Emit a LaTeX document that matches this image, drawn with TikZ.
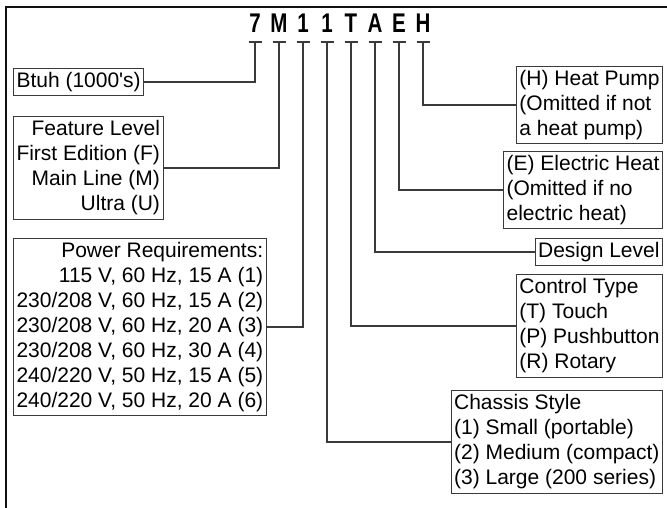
\documentclass[tikz,border=0pt]{standalone}
\usepackage{fontspec}
\setmainfont{Liberation Sans}
\usetikzlibrary{positioning}
\definecolor{leadgray}{HTML}{3A3A3A}
\definecolor{framegray}{HTML}{101010}

\begin{document}
\begin{tikzpicture}[x=1pt,y=-1pt,font=\fontsize{21}{25}\selectfont,
    box/.style={draw=leadgray,line width=1pt,inner xsep=3pt,inner ysep=4pt},
    lead/.style={leadgray,line width=1.1pt}]
  \useasboundingbox (0,0) rectangle (667,508);
  \draw[line width=2pt,framegray] (6,508) -- (6,7) -- (667,7);
  \foreach \c [count=\i] in {7,M,1,1,T,A,E,H}{
    \node[anchor=base,inner sep=0pt] (c\i) at ({231+24*\i},32.5) {\fontsize{27}{30}\selectfont\bfseries\scalebox{0.76}[1]{\c}};
    \coordinate (t\i) at ({231+24*\i},42);
    \draw[lead] ([xshift=-6.5pt]t\i) -- ([xshift=6.5pt]t\i);
  }
  \node[box,anchor=west] (btuh) at (13,82) {Btuh (1000\textquotesingle s)};
  \node[box,anchor=west,align=right] (feat) at (13,168) {Feature Level\\First Edition (F)\\Main Line (M)\\Ultra (U)};
  \node[box,anchor=west,align=right] (power) at (13,327) {Power Requirements:\\115 V, 60 Hz, 15 A (1)\\230/208 V, 60 Hz, 15 A (2)\\230/208 V, 60 Hz, 20 A (3)\\230/208 V, 60 Hz, 30 A (4)\\240/220 V, 50 Hz, 15 A (5)\\240/220 V, 50 Hz, 20 A (6)};
  \node[box,anchor=east,align=left] (hp) at (663,105) {(H) Heat Pump\\(Omitted if not\\a heat pump)};
  \node[box,anchor=east,align=left] (eh) at (663,190) {(E) Electric Heat\\(Omitted if no\\electric heat)};
  \node[box,anchor=east] (dl) at (663,252) {Design Level};
  \node[box,anchor=east,align=left] (ct) at (663,326) {Control Type\\(T) Touch\\(P) Pushbutton\\(R) Rotary};
  \node[box,anchor=east,align=left] (cs) at (663,442) {Chassis Style\\(1) Small (portable)\\(2) Medium (compact)\\(3) Large (200 series)};
  \draw[lead] (t1) |- (btuh.east);
  \draw[lead] (t2) |- (feat.east);
  \draw[lead] (t3) |- (power.east);
  \draw[lead] (t4) |- (cs.west);
  \draw[lead] (t5) |- (ct.west);
  \draw[lead] (t6) |- (dl.west);
  \draw[lead] (t7) |- (eh.west);
  \draw[lead] (t8) |- (hp.west);
\end{tikzpicture}
\end{document}
